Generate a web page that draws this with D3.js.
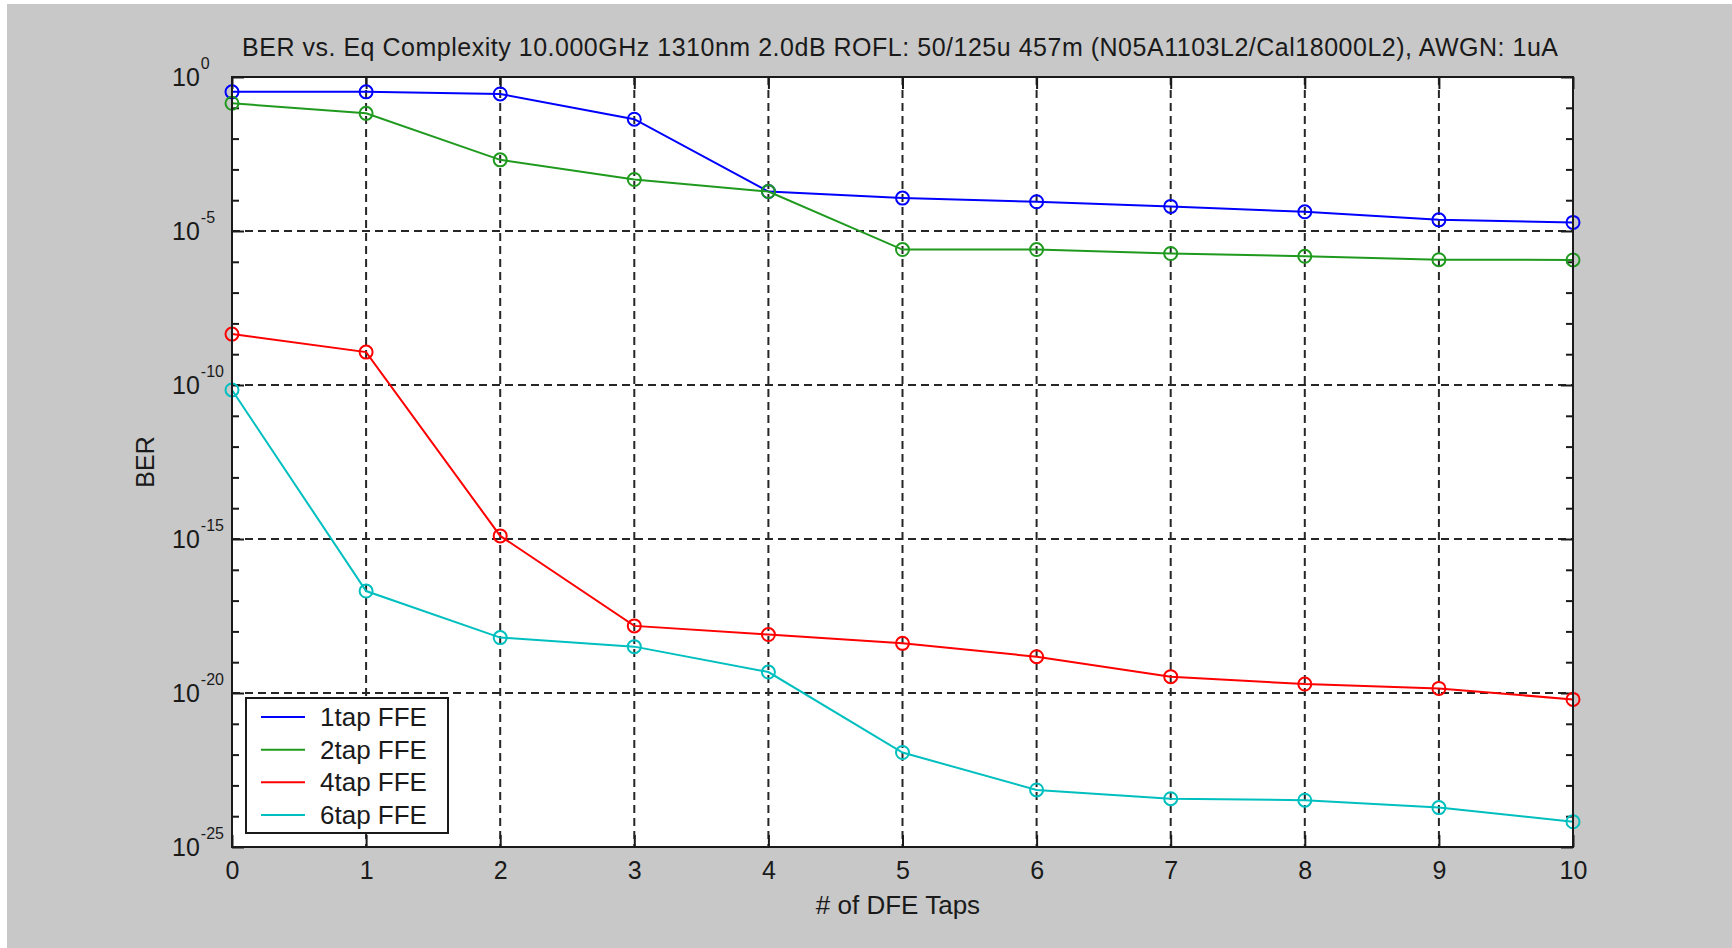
<!DOCTYPE html>
<html>
<head>
<meta charset="utf-8">
<script src="https://cdn.jsdelivr.net/npm/d3@7"></script>
<style>
  body { margin: 0; background: #ffffff; }
  svg { display: block; }
  text { font-family: "Liberation Sans", Arial, Helvetica, sans-serif; fill: #1a1a1a; }
</style>
</head>
<body>
<svg id="chart" width="1732" height="948"></svg>
<script>
// ---------------- data ----------------
const titleText = "BER vs. Eq Complexity 10.000GHz 1310nm 2.0dB ROFL: 50/125u 457m (N05A1103L2/Cal18000L2), AWGN: 1uA";
const xLabelText = "# of DFE Taps";
const yLabelText = "BER";
const dfeTaps = [0, 1, 2, 3, 4, 5, 6, 7, 8, 9, 10];
const xTickLabels = ["0", "1", "2", "3", "4", "5", "6", "7", "8", "9", "10"];
const yMajorExponents = [0, -5, -10, -15, -20, -25];
const seriesNames = ["1tap FFE", "2tap FFE", "4tap FFE", "6tap FFE"];
const seriesColors = ["#0000ff", "#1f9a1f", "#ff0000", "#00bfbf"];
const ber1tapFFE = [3.3e-1, 3.3e-1, 2.82e-1, 4.27e-2, 1.91e-4, 1.17e-4, 8.9e-5, 6.3e-5, 4.2e-5, 2.3e-5, 1.9e-5];
const ber2tapFFE = [1.4e-1, 6.6e-2, 2.04e-3, 4.7e-4, 1.91e-4, 2.5e-6, 2.5e-6, 1.86e-6, 1.51e-6, 1.17e-6, 1.15e-6];
const ber4tapFFE = [4.5e-9, 1.17e-9, 1.26e-15, 1.51e-18, 7.9e-19, 4.1e-19, 1.51e-19, 3.4e-20, 1.95e-20, 1.41e-20, 6.2e-21];
const ber6tapFFE = [6.9e-11, 2.04e-17, 6.3e-19, 3.2e-19, 4.8e-20, 1.17e-22, 7.1e-24, 3.7e-24, 3.3e-24, 1.9e-24, 6.6e-25];
const seriesValues = [ber1tapFFE, ber2tapFFE, ber4tapFFE, ber6tapFFE];

// ---------------- layout ----------------
const W = 1732, H = 948;
const plot = { left: 232, right: 1573, top: 77, bottom: 847 };

const svg = d3.select("#chart");

// figure background
svg.append("rect").attr("x", 7).attr("y", 4).attr("width", W - 7).attr("height", H - 4).attr("fill", "#c8c8c8");

// plot background
svg.append("rect")
  .attr("x", plot.left).attr("y", plot.top)
  .attr("width", plot.right - plot.left).attr("height", plot.bottom - plot.top)
  .attr("fill", "#ffffff");

const x = d3.scaleLinear().domain([0, 10]).range([plot.left, plot.right]);
const y = d3.scaleLog().domain([1, 1e-25]).range([plot.top, plot.bottom]);

const allDecades = d3.range(0, -26, -1).map(e => Math.pow(10, e));
const majorDecades = yMajorExponents.map(e => Math.pow(10, e));
const minorDecades = allDecades.filter(v => !majorDecades.includes(v));

// ---------------- grid ----------------
const grid = svg.append("g").attr("stroke", "#262626").attr("stroke-width", 2).attr("stroke-dasharray", "8,5");
grid.selectAll("line.vx").data(dfeTaps.filter(d => d > 0 && d < 10)).join("line")
  .attr("x1", d => x(d)).attr("x2", d => x(d))
  .attr("y1", plot.top).attr("y2", plot.bottom);
grid.selectAll("line.hy").data(majorDecades.filter(v => v < 1 && v > 1e-25)).join("line")
  .attr("x1", plot.left).attr("x2", plot.right)
  .attr("y1", d => y(d)).attr("y2", d => y(d));

// ---------------- axes (inward ticks) ----------------
function styleAxis(g) {
  g.select(".domain").remove();
  g.selectAll(".tick line").attr("stroke", "#1a1a1a").attr("stroke-width", 2);
}
svg.append("g").attr("transform", `translate(0,${plot.bottom})`)
  .call(d3.axisBottom(x).tickValues(dfeTaps).tickSizeInner(-12).tickSizeOuter(0).tickPadding(14).tickFormat((d, i) => xTickLabels[i]))
  .call(styleAxis)
  .call(g => g.selectAll("text").attr("font-size", 25).attr("fill", "#1a1a1a").attr("font-family", "Liberation Sans, Arial, sans-serif"));
svg.append("g").attr("transform", `translate(0,${plot.top})`)
  .call(d3.axisTop(x).tickValues(dfeTaps).tickSizeInner(-12).tickSizeOuter(0).tickFormat(""))
  .call(styleAxis);
svg.append("g").attr("transform", `translate(${plot.left},0)`)
  .call(d3.axisLeft(y).tickValues(majorDecades).tickSizeInner(-12).tickSizeOuter(0).tickFormat(""))
  .call(styleAxis);
svg.append("g").attr("transform", `translate(${plot.left},0)`)
  .call(d3.axisLeft(y).tickValues(minorDecades).tickSizeInner(-7).tickSizeOuter(0).tickFormat(""))
  .call(styleAxis);
svg.append("g").attr("transform", `translate(${plot.right},0)`)
  .call(d3.axisRight(y).tickValues(majorDecades).tickSizeInner(-12).tickSizeOuter(0).tickFormat(""))
  .call(styleAxis);
svg.append("g").attr("transform", `translate(${plot.right},0)`)
  .call(d3.axisRight(y).tickValues(minorDecades).tickSizeInner(-7).tickSizeOuter(0).tickFormat(""))
  .call(styleAxis);

// y tick labels 10^e
const yLab = svg.append("g");
yMajorExponents.forEach(e => {
  const t = yLab.append("text")
    .attr("x", 172).attr("y", y(Math.pow(10, e)) + 9)
    .attr("font-size", 25);
  t.append("tspan").text("10");
  t.append("tspan").attr("dx", 1).attr("dy", -17).attr("font-size", 16).text(String(e));
});

// ---------------- series ----------------
const line = d3.line().x((d, i) => x(dfeTaps[i])).y(d => y(d));
seriesValues.forEach((vals, s) => {
  const g = svg.append("g");
  g.append("path").datum(vals).attr("d", line)
    .attr("fill", "none").attr("stroke", seriesColors[s]).attr("stroke-width", 2);
  g.selectAll("circle").data(vals).join("circle")
    .attr("cx", (d, i) => x(dfeTaps[i])).attr("cy", d => y(d)).attr("r", 6.5)
    .attr("fill", "none").attr("stroke", seriesColors[s]).attr("stroke-width", 2);
});

// plot box
svg.append("rect")
  .attr("x", plot.left).attr("y", plot.top)
  .attr("width", plot.right - plot.left).attr("height", plot.bottom - plot.top)
  .attr("fill", "none").attr("stroke", "#1a1a1a").attr("stroke-width", 2);

// ---------------- texts ----------------
svg.append("text").attr("x", 900).attr("y", 56)
  .attr("text-anchor", "middle").attr("font-size", 25)
  .attr("textLength", 1316).attr("lengthAdjust", "spacing").text(titleText);
svg.append("text").attr("x", 898).attr("y", 914)
  .attr("text-anchor", "middle").attr("font-size", 26).text(xLabelText);
svg.append("text").attr("transform", `translate(154,${(plot.top + plot.bottom) / 2}) rotate(-90)`)
  .attr("text-anchor", "middle").attr("font-size", 25).text(yLabelText);

// ---------------- legend ----------------
const leg = svg.append("g");
leg.append("rect").attr("x", 246).attr("y", 698).attr("width", 202).attr("height", 135)
  .attr("fill", "#ffffff").attr("stroke", "#1a1a1a").attr("stroke-width", 2);
const rowY = d3.scalePoint().domain(seriesNames).range([717, 815]);
seriesNames.forEach((name, s) => {
  const cy = rowY(name);
  leg.append("line").attr("x1", 261).attr("x2", 305).attr("y1", cy).attr("y2", cy)
    .attr("stroke", seriesColors[s]).attr("stroke-width", 2);
  leg.append("text").attr("x", 320).attr("y", cy + 9).attr("font-size", 26).text(name);
});
</script>
</body>
</html>
